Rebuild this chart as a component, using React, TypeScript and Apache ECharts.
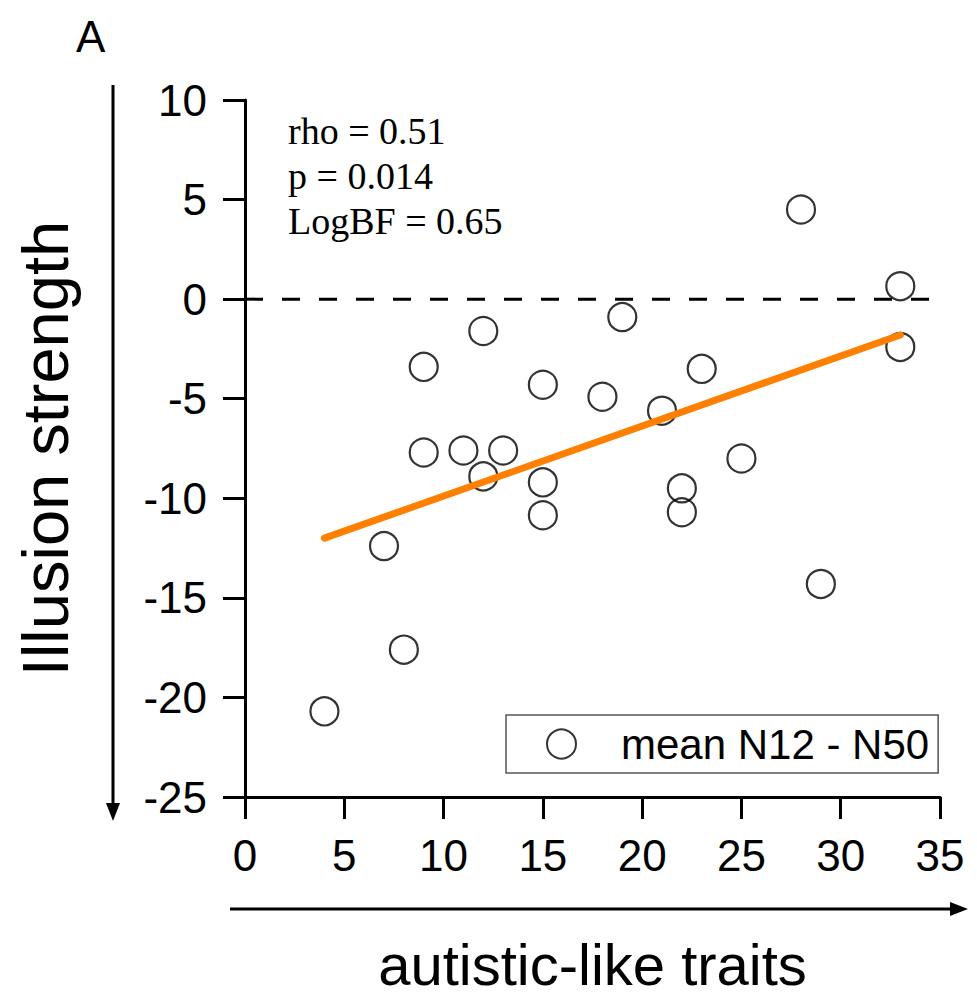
import React, { useEffect, useRef } from "react";
import * as echarts from "echarts";

// Data
const autisticTraits = [4, 7, 8, 9, 9, 11, 12, 12, 13, 15, 15, 15, 18, 19, 21, 22, 22, 23, 25, 28, 29, 33, 33];
const illusionStrength = [-20.7, -12.4, -17.6, -3.4, -7.7, -7.6, -1.6, -8.9, -7.6, -4.3, -9.2, -10.85, -4.9, -0.9, -5.6, -9.5, -10.7, -3.5, -8.0, 4.5, -14.3, 0.65, -2.4];
const fitX = [4, 33];
const fitY = [-12.0, -1.8];
const zeroLineX = [0, 35];
const zeroLineY = [0, 0];
const xRange = [0, 35];
const yRange = [-25, 10];
const tickStep = 5;
const seriesName = "mean N12 - N50";
const statsLines = ["rho = 0.51", "p = 0.014", "LogBF = 0.65"];
const xTitle = "autistic-like traits";
const yTitle = "Illusion strength";
const panelLabel = "A";

const SANS = "Liberation Sans, Arial, sans-serif";
const SERIF = "Liberation Serif, Times New Roman, serif";

export default function App() {
  const ref = useRef<HTMLDivElement>(null);

  useEffect(() => {
    if (!ref.current) return;
    const chart = echarts.init(ref.current, undefined, { renderer: "svg" });
    const scatterData = autisticTraits.map((x, i) => [x, illusionStrength[i]]);
    const fitData = fitX.map((x, i) => [x, fitY[i]]);
    const zeroData = zeroLineX.map((x, i) => [x, zeroLineY[i]]);

    const axisCommon = {
      type: "value",
      interval: tickStep,
      axisLine: { show: true, onZero: false, lineStyle: { color: "#000", width: 3 } },
      axisTick: { show: true, length: 22, lineStyle: { color: "#000", width: 3 } },
      splitLine: { show: false },
    };

    chart.setOption({
      animation: false,
      backgroundColor: "#fff",
      grid: { left: 245, top: 100, width: 695, height: 697, containLabel: false },
      xAxis: {
        ...axisCommon,
        min: xRange[0],
        max: xRange[1],
        axisLabel: { fontSize: 44, color: "#000", fontFamily: SANS, margin: 36 },
        name: xTitle,
        nameLocation: "middle",
        nameGap: 138,
        nameTextStyle: { fontSize: 58, color: "#000", fontFamily: SANS },
      },
      yAxis: {
        ...axisCommon,
        min: yRange[0],
        max: yRange[1],
        axisLabel: { fontSize: 44, color: "#000", fontFamily: SANS, margin: 38 },
        name: yTitle,
        nameLocation: "middle",
        nameGap: 167,
        nameTextStyle: { fontSize: 65, color: "#000", fontFamily: SANS },
      },
      legend: {
        left: 506,
        top: 715,
        orient: "horizontal",
        itemWidth: 29,
        itemHeight: 29,
        itemGap: 0,
        padding: [8, 9, 8, 40],
        borderColor: "#555",
        borderWidth: 1.5,
        borderRadius: 0,
        backgroundColor: "#fff",
        textStyle: { fontSize: 42, color: "#000", fontFamily: SANS, padding: [0, 0, 0, 40] },
        data: [{ name: seriesName, icon: "circle" }],
      },
      graphic: [
        {
          type: "text",
          left: 76,
          top: 14,
          style: { text: panelLabel, fontSize: 44, fill: "#000", fontFamily: SANS },
        },
        {
          type: "text",
          x: 288,
          y: 108,
          style: {
            text: statsLines.join("\n"),
            fontSize: 38,
            lineHeight: 45,
            fill: "#000",
            fontFamily: SERIF,
            verticalAlign: "top",
          },
        },
        {
          type: "line",
          shape: { x1: 113, y1: 85, x2: 113, y2: 806 },
          style: { stroke: "#000", lineWidth: 3 },
        },
        {
          type: "polygon",
          shape: { points: [[106, 803], [120, 803], [113, 821]] },
          style: { fill: "#000" },
        },
        {
          type: "line",
          shape: { x1: 230, y1: 909, x2: 953, y2: 909 },
          style: { stroke: "#000", lineWidth: 3 },
        },
        {
          type: "polygon",
          shape: { points: [[950, 902], [950, 916], [968, 909]] },
          style: { fill: "#000" },
        },
      ],
      series: [
        {
          type: "line",
          name: "zero",
          data: zeroData,
          showSymbol: false,
          symbol: "none",
          silent: true,
          lineStyle: { color: "#000", width: 3, type: [18, 19] },
          z: 1,
        },
        {
          type: "scatter",
          name: seriesName,
          data: scatterData,
          symbol: "circle",
          symbolSize: 28,
          itemStyle: { color: "rgba(0,0,0,0)", borderColor: "#000", borderWidth: 2.2 },
          z: 2,
        },
        {
          type: "line",
          name: "fit",
          data: fitData,
          showSymbol: false,
          symbol: "none",
          lineStyle: { color: "#FF8000", width: 7, cap: "round" },
          z: 3,
        },
      ],
    });

    return () => chart.dispose();
  }, []);

  return (
    <div
      ref={ref}
      style={{ position: "fixed", left: 0, top: 0, width: 977, height: 999 }}
    />
  );
}
